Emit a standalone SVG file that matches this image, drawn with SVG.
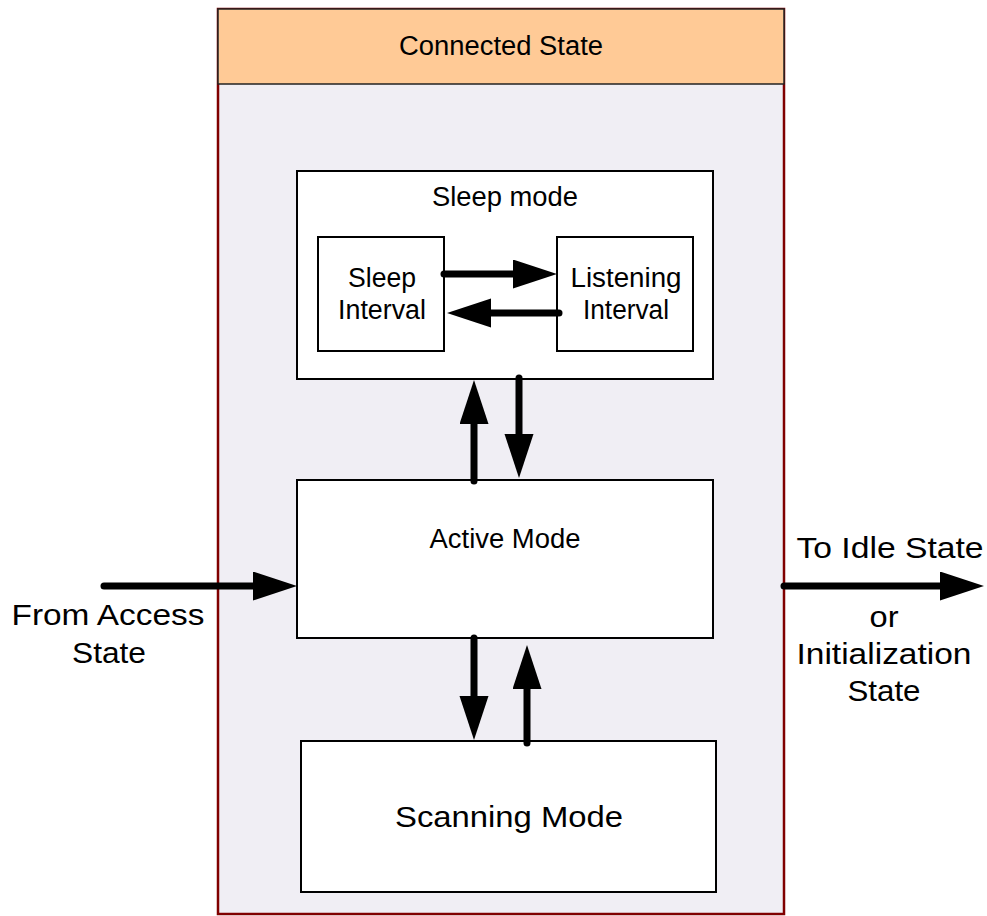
<svg xmlns="http://www.w3.org/2000/svg" width="987" height="916" viewBox="0 0 987 916">
<defs>
<style>
.box{fill:#fff;stroke:#000;stroke-width:2}
.t{font-family:"Liberation Sans",Arial,sans-serif;fill:#000;text-anchor:middle}
.w{stroke:#000;stroke-width:7;stroke-linecap:round;fill:none}
</style>
<marker id="ah" markerUnits="userSpaceOnUse" markerWidth="46" markerHeight="30" refX="0" refY="14.5" orient="auto" viewBox="0 0 46 30">
<path d="M0,0 L44,14.5 L0,29 z" fill="#000"/>
</marker>
</defs>
<rect width="987" height="916" fill="#fff"/>
<g id="connected-state">
<rect x="218" y="9" width="566" height="905" fill="#F0EEF4" stroke="#800000" stroke-width="2.5"/>
<rect x="218" y="9" width="566" height="75" fill="#FFCA96" stroke="#222" stroke-width="1.5"/>
<text class="t" x="501" y="55" font-size="27" textLength="204" lengthAdjust="spacingAndGlyphs">Connected State</text>
</g>
<g id="sleep-mode">
<rect class="box" x="297" y="171" width="416" height="208"/>
<text class="t" x="505" y="206" font-size="27" textLength="146" lengthAdjust="spacingAndGlyphs">Sleep mode</text>
</g>
<g id="sleep-interval">
<rect class="box" x="318" y="237" width="126" height="114"/>
<text class="t" x="382" y="287" font-size="27" textLength="68" lengthAdjust="spacingAndGlyphs">Sleep</text>
<text class="t" x="382" y="319" font-size="27" textLength="88" lengthAdjust="spacingAndGlyphs">Interval</text>
</g>
<g id="listening-interval">
<rect class="box" x="557" y="237" width="136" height="114"/>
<text class="t" x="626" y="287" font-size="27" textLength="111" lengthAdjust="spacingAndGlyphs">Listening</text>
<text class="t" x="626" y="319" font-size="27" textLength="86" lengthAdjust="spacingAndGlyphs">Interval</text>
</g>
<g id="active-mode">
<rect class="box" x="297" y="480" width="416" height="158"/>
<text class="t" x="505" y="548" font-size="27" textLength="151" lengthAdjust="spacingAndGlyphs">Active Mode</text>
</g>
<g id="scanning-mode">
<rect class="box" x="301" y="741" width="415" height="151"/>
<text class="t" x="509" y="827" font-size="30" textLength="228" lengthAdjust="spacingAndGlyphs">Scanning Mode</text>
</g>
<g id="from-access">
<text class="t" x="108" y="625" font-size="29" textLength="193" lengthAdjust="spacingAndGlyphs">From Access</text>
<text class="t" x="109" y="663" font-size="29" textLength="74" lengthAdjust="spacingAndGlyphs">State</text>
</g>
<g id="to-idle">
<text class="t" x="890" y="558" font-size="29" textLength="187" lengthAdjust="spacingAndGlyphs">To Idle State</text>
<text class="t" x="884" y="627" font-size="29" textLength="29" lengthAdjust="spacingAndGlyphs">or</text>
<text class="t" x="884" y="664" font-size="29" textLength="175" lengthAdjust="spacingAndGlyphs">Initialization</text>
<text class="t" x="884" y="701" font-size="29" textLength="73" lengthAdjust="spacingAndGlyphs">State</text>
</g>
<g id="connectors">
<path class="w" d="M444,274 L513,274" marker-end="url(#ah)"/>
<path class="w" d="M559,313 L491,313" marker-end="url(#ah)"/>
<path class="w" d="M474,481 L474,424" marker-end="url(#ah)"/>
<path class="w" d="M519,378 L519,434" marker-end="url(#ah)"/>
<path class="w" d="M474,638 L474,696" marker-end="url(#ah)"/>
<path class="w" d="M527,743 L527,689" marker-end="url(#ah)"/>
<path class="w" d="M104,586 L253,586" marker-end="url(#ah)"/>
<path class="w" d="M784,586 L940,586" marker-end="url(#ah)"/>
</g>
</svg>
